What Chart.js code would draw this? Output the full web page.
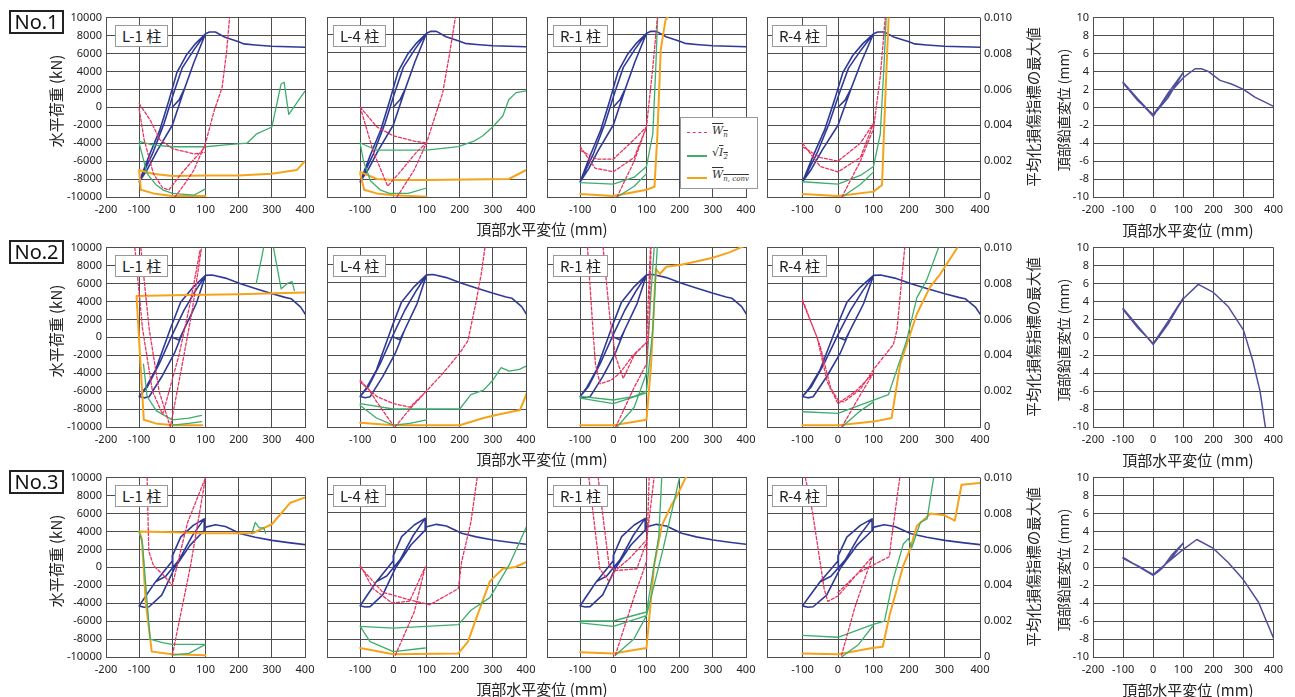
<!DOCTYPE html>
<html>
<head>
<meta charset="utf-8">
<script src="https://cdn.jsdelivr.net/npm/chart.js@4.4.0/dist/chart.umd.min.js"></script>
<style>
body { margin: 0; background: #fff; font-family: "Noto Sans CJK JP", "Noto Sans", sans-serif; }
#wrap { position: relative; width: 1295px; height: 697px; overflow: hidden; background: #fff; }
canvas { position: absolute; }
.no { position: absolute; left: 9px; width: 51px; height: 20px; border: 2px solid #222; font: 20px "Noto Sans", sans-serif; line-height: 20px; text-align: center; color: #111; z-index: 3; }
.tag { position: absolute; height: 20px; border: 1px solid #999; background: #fff; font: 15px "Noto Sans CJK JP", sans-serif; line-height: 20px; padding: 0 6px; color: #222; z-index: 3; }
.vt { position: absolute; transform: translate(-50%, -50%) rotate(-90deg); white-space: nowrap; color: #222; z-index: 3; }
.ht { position: absolute; transform: translate(-50%, -50%); white-space: nowrap; color: #222; z-index: 3; }
#leg { position: absolute; left: 680px; top: 117px; width: 76px; height: 70px; border: 1px solid #999; background: #fff; z-index: 3; }
.ls { position: absolute; left: 6px; width: 20px; height: 0; }
.lt { position: absolute; left: 31px; font: italic 11px "DejaVu Serif", serif; color: #333; white-space: nowrap; }
.ol { text-decoration: overline; }
.lt sub { font-size: 7px; }
</style>
</head>
<body>
<div id="wrap"></div>
<script>
// tick values
const xTickVals = [-200, -100, 0, 100, 200, 300, 400];
const loadTickVals = [-10000, -8000, -6000, -4000, -2000, 0, 2000, 4000, 6000, 8000, 10000];
const dmgTickVals = [0, 0.002, 0.004, 0.006, 0.008, 0.01];
const vertTickVals = [-10, -8, -6, -4, -2, 0, 2, 4, 6, 8, 10];
const columnNames = ['L-1 柱', 'L-4 柱', 'R-1 柱', 'R-4 柱'];
const caseNames = ['No.1', 'No.2', 'No.3'];

// horizontal load (kN) vs top displacement (mm), same curve for every column in a row
const hyst1 = [[0,0],[20,800],[37,2100],[65,5000],[100,8200],
  [70,7100],[42,5800],[14,3900],[-10,800],[-38,-2550],[-71,-5500],[-100,-8300],
  [-75,-6900],[-45,-4800],[0,-2000],[37,2100],[65,5000],[100,8200],
  [65,6400],[30,4400],[5,1700],[-25,-1800],[-60,-5200],[-100,-8300],
  [-75,-6900],[-45,-4800],[0,-2000],[37,2100],[65,5000],[100,8200],
  [112,8400],[130,8400],[159,7800],[200,7300],[216,7070],[250,6950],[300,6800],[350,6750],[400,6700]];
const hyst2 = [[0,0],[20,-300],[34,780],[72,3740],[100,6900],
  [63,5600],[25,3900],[-4,1150],[-51,-3670],[-80,-5600],[-100,-6600],
  [-85,-6750],[-70,-6630],[-32,-4400],[6,-1800],[34,780],[72,3740],[100,6900],
  [70,5200],[35,3000],[0,300],[-40,-3000],[-75,-5500],[-100,-6600],
  [-85,-6750],[-70,-6630],[-32,-4400],[6,-1800],[34,780],[72,3740],[100,6900],
  [120,6950],[160,6600],[206,5960],[250,5450],[301,4850],[340,4450],[358,4300],[387,3370],[403,2440]];
const hyst3 = [[0,0],[1,1330],[25,3370],[63,4670],[96,5400],
  [60,3500],[20,800],[-20,-1000],[-51,-1630],[-80,-3200],[-100,-4300],
  [-85,-4450],[-70,-4400],[-32,-3100],[6,-150],[53,2440],[96,4100],[96,5400],
  [63,4670],[25,3370],[1,1330],[0,700],[-51,-1630],[-100,-4300],
  [-85,-4450],[-70,-4400],[-32,-3100],[6,-150],[53,2440],[96,4100],
  [101,4480],[130,4740],[160,4550],[206,3740],[250,3350],[301,3000],[350,2750],[403,2520]];

// damage indices (right axis), null = break in the line
const r1L1_red = [[-100,0.0052],[-67,0.0043],[-38,0.0032],[0,0.0027],[65,0.0024],[100,0.0025], null,
  [-100,0.0049],[-85,0.0032],[-57,0.0013],[-29,0.0005],[-10,0.0004],[27,0.0013],[65,0.0021],[100,0.0028], null,
  [8,0],[40,0.0008],[65,0.0015],[100,0.0030],[126,0.0048],[150,0.0061],[163,0.0080],[175,0.0105]];
const r1L1_green = [[-100,0.0031],[-60,0.0029],[0,0.0028],[100,0.0028],[160,0.0029],[225,0.0030],[253,0.0035],[300,0.0039],[328,0.0063],[337,0.0064],[351,0.0046],[400,0.0059], null,
  [-100,0.0030],[-76,0.0013],[-50,0.0007],[-29,0.0004],[0,0.0002],[65,0.0001],[100,0.00045]];
const r1L1_orange = [[-100,0.0015],[-60,0.0013],[0,0.00117],[100,0.0012],[200,0.0012],[300,0.0013],[375,0.0015],[400,0.0020], null,
  [-100,0.0015],[-95,0.0004],[-57,0.0002],[0,0.00005],[100,0.00005]];

const r1L4_red = [[-100,0.0050],[-50,0.0039],[0,0.0034],[63,0.0031],[100,0.0030], null,
  [-100,0.0050],[-60,0.0025],[-17,0.0006],[30,0.0016],[70,0.0025],[100,0.0030], null,
  [11,0],[63,0.0015],[100,0.0030],[149,0.0058],[170,0.0080],[189,0.0102]];
const r1L4_green = [[-100,0.0030],[-50,0.0026],[0,0.0026],[100,0.0026],[196,0.0028],[243,0.0031],[270,0.0034],[300,0.0039],[330,0.0045],[348,0.0054],[370,0.0058],[401,0.0059], null,
  [-100,0.0030],[-90,0.0020],[-69,0.0009],[-40,0.0004],[-12,0.0002],[45,0.0002],[100,0.0005]];
const r1L4_orange = [[-100,0.0014],[-50,0.0010],[0,0.00094],[100,0.00094],[348,0.0010],[401,0.0015], null,
  [-100,0.0013],[-88,0.0004],[-50,0.0002],[0,0.0001],[100,0.00002]];

const r1R1_red = [[-100,0.0028],[-55,0.0016],[0,0.0014],[63,0.0022],[100,0.0039], null,
  [-100,0.0026],[-50,0.0021],[0,0.0021],[63,0.0032],[100,0.0039], null,
  [11,0],[63,0.0020],[100,0.0039],[119,0.0072],[134,0.0102]];
const r1R1_green = [[-100,0.0008],[0,0.00072],[63,0.0011],[100,0.0017],[119,0.0035],[128,0.0072],[134,0.0102], null,
  [11,0],[63,0.0006],[100,0.0013]];
const r1R1_orange = [[-100,0.00017],[0,0.00005],[100,0.0004],[124,0.00057],[133,0.0035],[143,0.0082],[157,0.0098],[170,0.0102]];

const r1R4_red = [[-100,0.0030],[-50,0.0017],[0,0.0014],[63,0.0022],[100,0.0041], null,
  [-100,0.0028],[-50,0.0022],[0,0.0020],[63,0.0030],[100,0.0041], null,
  [11,0],[63,0.0020],[100,0.0038],[119,0.0067],[134,0.0102]];
const r1R4_green = [[-100,0.00085],[0,0.00072],[63,0.0012],[100,0.0017],[119,0.0035],[130,0.0075],[136,0.0102], null,
  [11,0],[63,0.0007],[100,0.0014]];
const r1R4_orange = [[-100,0.00017],[0,0.00005],[100,0.0003],[124,0.00067],[133,0.0054],[143,0.0102]];

const r2L1_red = [[-113,0.0100],[-90,0.0055],[-60,0.0020],[-29,0.0007],[20,0.0040],[55,0.0070],[84,0.0099], null,
  [-95,0.0100],[-70,0.0055],[-40,0.0020],[-6,0.0000],[30,0.0035],[60,0.0065],[88,0.0100]];
const r2L1_green = [[-87,0.0035],[-76,0.0017],[-48,0.0009],[0,0.0004],[50,0.0005],[88,0.00065], null,
  [0,0.0001],[50,0.0002],[88,0.0003], null,
  [253,0.0080],[270,0.0095],[280,0.0105], null,
  [300,0.0105],[315,0.0090],[328,0.0077],[347,0.0080],[361,0.0081],[368,0.0076]];
const r2L1_orange = [[90,0.0001],[0,0.0001],[-50,0.0002],[-86,0.0004],[-108,0.0073],[0,0.00735],[200,0.0074],[400,0.0075]];

const r2L4_red = [[-100,0.0026],[-75,0.0021],[-50,0.0014],[-20,0.0006],[0,0.0001], null,
  [-100,0.0025],[-50,0.0017],[0,0.0013],[50,0.0011],[100,0.0020], null,
  [5,0],[50,0.0010],[100,0.0020],[150,0.0030],[200,0.0041],[225,0.0048],[250,0.0070],[265,0.0085],[278,0.0102]];
const r2L4_green = [[-100,0.0013],[0,0.0010],[100,0.0010],[200,0.0010],[234,0.0018],[272,0.00205],[300,0.0026],[325,0.0033],[349,0.0031],[380,0.0032],[403,0.0034], null,
  [-100,0.0012],[-51,0.0005],[0,0.0001],[50,0.0002],[100,0.0004]];
const r2L4_orange = [[-100,0.00024],[0,0.0001],[100,0.0001],[200,0.0001],[272,0.0005],[310,0.00067],[382,0.00095],[403,0.0019]];

const r2R1_red = [[-78,0.0100],[-60,0.0050],[-54,0.0035],[-40,0.0024],[-7,0.0026],[20,0.0030],[60,0.0040],[100,0.0047],[112,0.0100], null,
  [-31,0.0100],[-10,0.0060],[7,0.0039],[30,0.0027],[63,0.0040],[100,0.0047], null,
  [7,0],[63,0.0022],[100,0.0035],[108,0.0060],[114,0.0102]];
const r2R1_green = [[-100,0.0017],[0,0.0015],[63,0.0017],[100,0.0020],[119,0.0054],[133,0.0102], null,
  [-100,0.0016],[0,0.0013],[100,0.0019], null,
  [11,0],[63,0.0011],[100,0.0030],[112,0.0070],[124,0.0102]];
const r2R1_orange = [[-100,0.0001],[0,0.0001],[100,0.0004],[114,0.0035],[128,0.0088],[140,0.0085],[160,0.0089],[200,0.0090],[250,0.0092],[300,0.0094],[350,0.0097],[400,0.0101]];

const r2R4_red = [[-100,0.0071],[-50,0.0045],[-21,0.0022],[0,0.0015],[16,0.0014],[63,0.0021],[100,0.0032],[156,0.0046],[166,0.0054],[189,0.0102], null,
  [-100,0.0070],[-59,0.0050],[-30,0.0025],[0,0.0013],[50,0.0020],[100,0.0030], null,
  [11,0],[63,0.0018],[100,0.0030]];
const r2R4_green = [[-100,0.00085],[0,0.00076],[100,0.0015],[142,0.0018],[193,0.0048],[222,0.0072],[250,0.0082],[287,0.0102], null,
  [11,0],[63,0.0009],[100,0.0014]];
const r2R4_orange = [[-100,0.0001],[0,0.0001],[100,0.0003],[151,0.0005],[175,0.0035],[222,0.0063],[259,0.0078],[287,0.0085],[343,0.0102]];

const r3L1_red = [[-76,0.0100],[-71,0.0059],[-57,0.0051],[-29,0.0046],[0,0.0040],[46,0.0075],[100,0.0100], null,
  [0,0.0001],[55,0.0051],[100,0.0100]];
const r3L1_green = [[-100,0.0070],[-90,0.0063],[-80,0.0040],[-67,0.0010],[-30,0.0008],[0,0.0007],[100,0.0007], null,
  [0,0.0001],[50,0.0002],[100,0.0007], null,
  [240,0.0069],[250,0.0075],[262,0.0072],[276,0.0072],[281,0.0069]];
const r3L1_orange = [[100,0.0001],[0,0.00015],[-62,0.0003],[-80,0.0030],[-92,0.0066],[-100,0.0070],[0,0.00695],[100,0.0069],[243,0.0069],[300,0.0074],[356,0.0086],[401,0.0089]];

const r3L4_red = [[-100,0.0051],[-61,0.0038],[-4,0.0030],[49,0.0031],[96,0.0050], null,
  [-100,0.0050],[-32,0.0036],[44,0.0032],[110,0.0029],[196,0.0038],[206,0.0053],[234,0.0075],[253,0.0100], null,
  [6,0.0001],[63,0.0025],[96,0.0050]];
const r3L4_green = [[-100,0.0017],[0,0.0016],[196,0.0018],[234,0.0026],[291,0.0033],[349,0.0051],[403,0.0073], null,
  [-100,0.0017],[-70,0.00085],[0,0.0003],[96,0.0005]];
const r3L4_orange = [[-100,0.0005],[0,0.00015],[196,0.0002],[225,0.00085],[253,0.0023],[291,0.0042],[330,0.0049],[368,0.0050],[403,0.0053]];

const r3R1_red = [[-74,0.0100],[-41,0.0049],[-13,0.0042],[6,0.0048],[71,0.0049],[100,0.0064],[123,0.0100], null,
  [-46,0.0100],[-13,0.0051],[6,0.0048],[50,0.0055],[100,0.0065], null,
  [6,0.0001],[62,0.0033],[100,0.0053],[108,0.0100]];
const r3R1_green = [[-100,0.0020],[0,0.0020],[100,0.0025],[137,0.0067],[146,0.0100], null,
  [-100,0.0019],[0,0.0017],[100,0.0023], null,
  [6,0.0001],[62,0.0010],[100,0.0023],[150,0.0060],[200,0.0100]];
const r3R1_orange = [[-100,0.00026],[0,0.0002],[100,0.0005],[123,0.0051],[146,0.0073],[174,0.0084],[193,0.0090],[211,0.0097],[222,0.0101]];

const r3R4_red = [[-92,0.0100],[-72,0.0081],[-39,0.0038],[-29,0.0031],[0,0.0034],[48,0.0045],[97,0.0056], null,
  [0,0.0036],[58,0.0047],[145,0.0056],[150,0.0065],[174,0.0100], null,
  [10,0.0001],[48,0.0028],[97,0.0056]];
const r3R4_green = [[-100,0.0012],[0,0.0011],[97,0.0018],[131,0.0020],[155,0.0043],[184,0.0063],[198,0.0066],[208,0.0061],[232,0.0075],[251,0.0077],[271,0.0102], null,
  [10,0],[58,0.0007],[97,0.0017]];
const r3R4_orange = [[-100,0.0002],[0,0.00015],[97,0.0005],[126,0.00057],[145,0.0023],[184,0.0051],[203,0.0060],[222,0.0073],[261,0.0080],[300,0.0079],[329,0.0076],[348,0.0096],[400,0.0097]];

// top vertical displacement (mm)
const vert1 = [[-100,2.8],[-50,0.9],[0,-0.9],[50,1.1],[100,3.9],[50,1.6],[0,-1.0],[-50,0.8],[-100,2.7],[-50,0.7],[0,-0.8],[50,1.4],[100,3.3],
  [139,4.3],[160,4.3],[183,4.0],[222,3.0],[260,2.6],[300,2.0],[339,1.1],[370,0.6],[400,0.1]];
const vert2 = [[-100,3.2],[-50,1.2],[0,-0.8],[50,1.5],[100,4.4],[50,1.8],[0,-0.7],[-50,1.0],[-100,3.1],[-50,1.1],[0,-0.7],[50,1.7],[100,4.3],
  [150,5.9],[200,5.0],[250,3.4],[300,0.8],[330,-2.5],[355,-6.0],[375,-10.5]];
const vert3 = [[-100,1.1],[-60,0.3],[-20,-0.5],[0,-0.9],[30,-0.1],[60,1.3],[100,2.7],[60,1.0],[20,-0.4],[0,-0.9],[-40,0.0],[-100,1.0],
  [-50,0.1],[0,-0.8],[50,0.6],[100,2.0],[145,3.1],[200,2.1],[250,0.5],[300,-1.4],[350,-3.9],[400,-7.9]];

const rows = [
  {hyst: hyst1, vert: vert1, dmg: [[r1L1_red, r1L1_green, r1L1_orange], [r1L4_red, r1L4_green, r1L4_orange], [r1R1_red, r1R1_green, r1R1_orange], [r1R4_red, r1R4_green, r1R4_orange]]},
  {hyst: hyst2, vert: vert2, dmg: [[r2L1_red, r2L1_green, r2L1_orange], [r2L4_red, r2L4_green, r2L4_orange], [r2R1_red, r2R1_green, r2R1_orange], [r2R4_red, r2R4_green, r2R4_orange]]},
  {hyst: hyst3, vert: vert3, dmg: [[r3L1_red, r3L1_green, r3L1_orange], [r3L4_red, r3L4_green, r3L4_orange], [r3R1_red, r3R1_green, r3R1_orange], [r3R4_red, r3R4_green, r3R4_orange]]}
];

const wrap = document.getElementById('wrap');
const gridCol = '#4d4d4d';
const tickFont = {family: "'Noto Sans', sans-serif", size: 11};

function pts(a) {
  return a.map(p => p ? {x: p[0], y: p[1]} : {x: null, y: null});
}

function line(data, color, width, axis, dash) {
  return {data: pts(data), yAxisID: axis, borderColor: color, borderWidth: width, borderDash: dash || [],
    borderJoinStyle: 'round', borderCapStyle: 'round',
    showLine: true, pointRadius: 0, fill: false, spanGaps: false};
}

function makeChart(o) {
  const T = 10, B = 24;
  const c = document.createElement('canvas');
  c.width = o.w + o.L + o.R;
  c.height = o.h + T + B;
  c.style.left = (o.left - o.L) + 'px';
  c.style.top = (o.top - T) + 'px';
  wrap.appendChild(c);

  const scales = {
    x: {type: 'linear', min: -200, max: 400,
      afterBuildTicks: s => { s.ticks = xTickVals.map(v => ({value: v})); },
      ticks: {font: tickFont, color: '#222', padding: 6, maxRotation: 0, autoSkip: false,
        callback: v => (v === -200 && !o.firstX) ? '' : String(v)},
      grid: {color: gridCol, drawTicks: false}, border: {color: gridCol},
      afterFit: s => { s.height = B; }},
    y: {type: 'linear', position: 'left', min: o.yMin, max: o.yMax,
      afterBuildTicks: s => { s.ticks = o.yTicks.map(v => ({value: v})); },
      ticks: {display: o.leftLabels, font: tickFont, color: '#222', padding: 4, callback: v => String(v)},
      grid: {color: gridCol, drawTicks: false}, border: {color: gridCol},
      afterFit: s => { s.width = o.leftLabels ? o.L : 0; }}
  };
  if (o.hasDmg) {
    scales.yd = {type: 'linear', position: 'right', min: 0, max: 0.01, display: !!o.rightLabels,
      afterBuildTicks: s => { s.ticks = dmgTickVals.map(v => ({value: v})); },
      ticks: {font: tickFont, color: '#222', padding: 4, callback: v => v === 0 ? '0' : v.toFixed(3)},
      grid: {display: false, drawTicks: false}, border: {display: false},
      afterFit: s => { s.width = o.R; }};
  }

  new Chart(c, {
    type: 'scatter',
    data: {datasets: o.datasets},
    options: {
      responsive: false, animation: false, events: [],
      layout: {padding: {left: o.leftLabels ? 0 : o.L, right: o.rightLabels ? 0 : o.R, top: T, bottom: 0}},
      plugins: {legend: {display: false}, tooltip: {enabled: false}},
      scales: scales
    }
  });
}

function addDiv(cls, x, y, html, extra) {
  const d = document.createElement('div');
  d.className = cls;
  d.style.left = x + 'px';
  d.style.top = y + 'px';
  if (extra) Object.assign(d.style, extra);
  d.innerHTML = html;
  wrap.appendChild(d);
  return d;
}

const panelLefts = [106, 327, 547, 767];
const tagOffsets = [9, 6, 6, 5];

rows.forEach((row, r) => {
  const top = 17 + 230 * r;
  panelLefts.forEach((left, k) => {
    const [red, green, orange] = row.dmg[k];
    makeChart({
      left: left, top: top, w: 213, h: 180,
      L: k === 0 ? 60 : 14, R: k === 3 ? 46 : 14,
      leftLabels: k === 0, rightLabels: k === 3, firstX: k === 0, hasDmg: true,
      yMin: -10000, yMax: 10000, yTicks: loadTickVals,
      datasets: [
        line(red, '#e8345f', 1.3, 'yd', [3, 2]),
        line(green, '#3dae6c', 1.3, 'yd'),
        line(orange, '#f6a31c', 2, 'yd'),
        line(row.hyst, '#2f3a97', 1.6, 'y')
      ]
    });
    addDiv('tag', left + tagOffsets[k], top + 8, columnNames[k]);
  });

  makeChart({
    left: 1093, top: top, w: 182, h: 180, L: 40, R: 14,
    leftLabels: true, rightLabels: false, firstX: true, hasDmg: false,
    yMin: -10, yMax: 10, yTicks: vertTickVals,
    datasets: [line(row.vert, '#4f4f9d', 1.5, 'y')]
  });

  addDiv('no', 9, 10 + 230 * r, caseNames[r]);
  addDiv('vt', 55, top + 84, '水平荷重 (kN)', {fontSize: '15px'});
  addDiv('vt', 1032, top + 90, '平均化損傷指標の最大値', {fontSize: '14.5px'});
  addDiv('vt', 1063, top + 93, '頂部鉛直変位 (mm)', {fontSize: '14px'});
  addDiv('ht', 542, top + 211, '頂部水平変位 (mm)', {fontSize: '15px'});
  addDiv('ht', 1188, top + 212, '頂部水平変位 (mm)', {fontSize: '15px'});
});

// legend inside the R-1 panel of case No.1
const leg = addDiv('', 0, 0, '');
leg.id = 'leg';
leg.style.left = '680px';
leg.style.top = '117px';
leg.innerHTML =
  '<div class="ls" style="top:14px;border-top:1.5px dashed #e8345f"></div>' +
  '<div class="lt" style="top:6px"><span class="ol">W<sub>n</sub></span></div>' +
  '<div class="ls" style="top:37px;border-top:2px solid #3dae6c"></div>' +
  '<div class="lt" style="top:28px">&radic;<span class="ol">I<sub>2</sub></span></div>' +
  '<div class="ls" style="top:59px;border-top:2px solid #f6a31c"></div>' +
  '<div class="lt" style="top:50px"><span class="ol">W<sub>n, conv</sub></span></div>';
</script>
</body>
</html>
